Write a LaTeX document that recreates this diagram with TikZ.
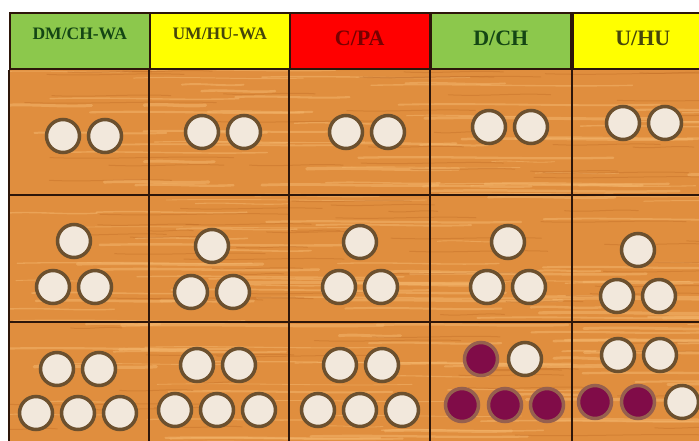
\documentclass[tikz,border=0pt]{standalone}
\usepackage{fontspec}
\setmainfont{Liberation Serif}

\definecolor{hdgreen}{RGB}{140,200,76}
\definecolor{hdyellow}{RGB}{255,255,0}
\definecolor{hdred}{RGB}{255,0,0}
\definecolor{txgreen}{RGB}{20,70,20}
\definecolor{txolive}{RGB}{70,70,10}
\definecolor{txred}{RGB}{120,0,0}
\definecolor{wood}{RGB}{224,142,62}
\definecolor{woodlight}{RGB}{244,182,108}
\definecolor{wooddark}{RGB}{192,108,38}
\definecolor{gridline}{RGB}{45,22,10}
\definecolor{pegrim}{RGB}{108,80,46}
\definecolor{pegfill}{RGB}{242,232,220}
\definecolor{stone}{RGB}{128,12,72}
\definecolor{stonerim}{RGB}{150,96,78}

\begin{document}
\begin{tikzpicture}[x=1pt, y=-1pt,
  head/.style={rectangle, draw=gridline, line width=1.5pt, anchor=north west,
               minimum width=140pt, minimum height=56pt, inner sep=0pt,
               font=\fontsize{17.5}{19}\selectfont\bfseries,
               text height=12pt, text depth=14pt},
  bighead/.style={head, font=\fontsize{22}{24}\selectfont\bfseries,
                  text height=15pt, text depth=5pt},
  peg/.style={circle, draw=pegrim, fill=pegfill, line width=3.5pt,
              minimum size=33pt, inner sep=0pt},
  bead/.style={peg, draw=stonerim, fill=stone},
  grid/.style={draw=gridline, line width=2pt}
]
  \useasboundingbox (0,0) rectangle (699,440);
  \clip (0,0) rectangle (699,440);

  % wooden board
  \fill[wood] (9,68) rectangle (720,450);
  \begin{scope}
    \clip (9,68) rectangle (720,450);
    \pgfmathsetseed{11}
    \foreach \i in {1,...,160} {
      \pgfmathsetmacro\yy{68+rnd*380}
      \pgfmathsetmacro\xx{rnd*700}
      \pgfmathsetmacro\ll{60+rnd*220}
      \pgfmathsetmacro\ww{0.8+rnd*2.5}
      \draw[woodlight, opacity=0.55, line width=\ww pt, line cap=round]
        (\xx,\yy) .. controls (\xx+\ll/3,\yy-2) and (\xx+2*\ll/3,\yy+2) .. (\xx+\ll,\yy);
    }
    \foreach \i in {1,...,90} {
      \pgfmathsetmacro\yy{68+rnd*380}
      \pgfmathsetmacro\xx{rnd*700}
      \pgfmathsetmacro\ll{40+rnd*160}
      \draw[wooddark, opacity=0.4, line width=1pt, line cap=round]
        (\xx,\yy) .. controls (\xx+\ll/3,\yy+2) and (\xx+2*\ll/3,\yy-2) .. (\xx+\ll,\yy);
    }
  \end{scope}

  % header row
  \node[head, fill=hdgreen, text=txgreen]     (h1) at (9,12)   {DM/CH-WA};
  \node[head, fill=hdyellow, text=txolive]    (h2) at (149,12) {UM/HU-WA};
  \node[bighead, fill=hdred, text=txred]      (h3) at (289,12) {C/PA};
  \node[bighead, fill=hdgreen, text=txgreen]  (h4) at (430,12) {D/CH};
  \node[bighead, fill=hdyellow, text=txolive] (h5) at (572,12) {U/HU};

  % grid of the board
  \draw[grid] (h1.south west) -- (9,450);
  \draw[grid] (h2.south west) -- (149,450);
  \draw[grid] (h3.south west) -- (289,450);
  \draw[grid] (h4.south west) -- (430,450);
  \draw[grid] (h5.south west) -- (572,450);
  \draw[grid] (9,195) -- (720,195);
  \draw[grid] (9,322) -- (720,322);

  % row 1: two pegs
  \node[peg] (a1) at (63,136) {};  \node[peg] (a2) at (105,136) {};
  \node[peg] (b1) at (202,132) {}; \node[peg] (b2) at (244,132) {};
  \node[peg] (c1) at (346,132) {}; \node[peg] (c2) at (388,132) {};
  \node[peg] (d1) at (489,127) {}; \node[peg] (d2) at (531,127) {};
  \node[peg] (e1) at (623,123) {}; \node[peg] (e2) at (665,123) {};

  % row 2: three pegs
  \node[peg] (a3) at (74,241) {};  \node[peg] (a4) at (53,287) {};  \node[peg] (a5) at (95,287) {};
  \node[peg] (b3) at (212,246) {}; \node[peg] (b4) at (191,292) {}; \node[peg] (b5) at (233,292) {};
  \node[peg] (c3) at (360,242) {}; \node[peg] (c4) at (339,287) {}; \node[peg] (c5) at (381,287) {};
  \node[peg] (d3) at (508,242) {}; \node[peg] (d4) at (487,287) {}; \node[peg] (d5) at (529,287) {};
  \node[peg] (e3) at (638,250) {}; \node[peg] (e4) at (617,296) {}; \node[peg] (e5) at (659,296) {};

  % row 3: five pegs
  \node[peg] (a6) at (57,369) {};  \node[peg] (a7) at (99,369) {};
  \node[peg] (a8) at (36,413) {};  \node[peg] (a9) at (78,413) {};  \node[peg] (a10) at (120,413) {};
  \node[peg] (b6) at (197,365) {}; \node[peg] (b7) at (239,365) {};
  \node[peg] (b8) at (175,410) {}; \node[peg] (b9) at (217,410) {}; \node[peg] (b10) at (259,410) {};
  \node[peg] (c6) at (340,365) {}; \node[peg] (c7) at (382,365) {};
  \node[peg] (c8) at (318,410) {}; \node[peg] (c9) at (360,410) {}; \node[peg] (c10) at (402,410) {};
  \node[bead] (d6) at (481,359) {}; \node[peg] (d7) at (525,359) {};
  \node[bead] (d8) at (462,405) {}; \node[bead] (d9) at (505,405) {}; \node[bead] (d10) at (547,405) {};
  \node[peg] (e6) at (618,355) {}; \node[peg] (e7) at (660,355) {};
  \node[bead] (e8) at (595,402) {}; \node[bead] (e9) at (638,402) {}; \node[peg] (e10) at (682,402) {};
\end{tikzpicture}
\end{document}
